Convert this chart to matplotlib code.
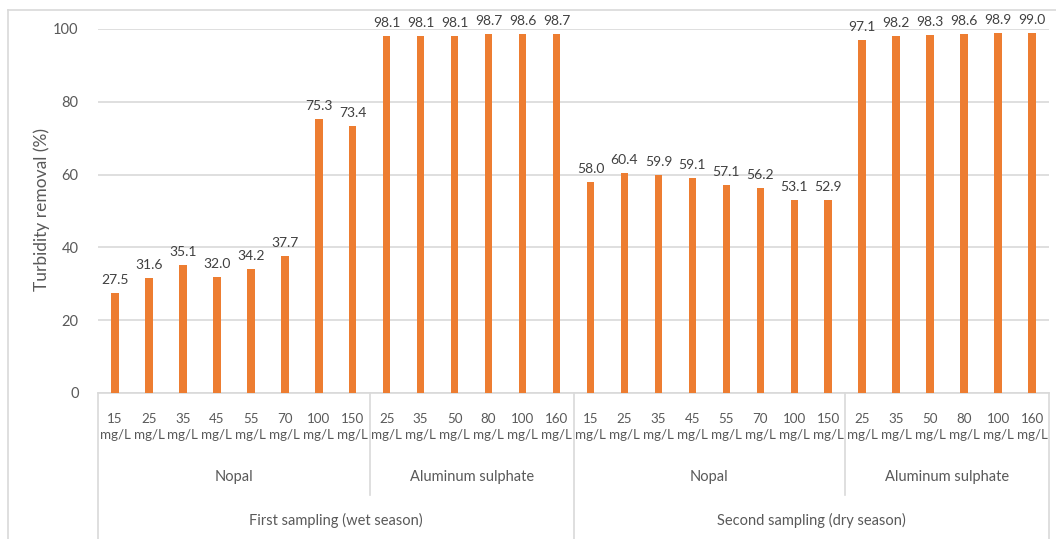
import matplotlib.pyplot as plt
import matplotlib.transforms as mtransforms
from matplotlib.lines import Line2D
import numpy as np

plt.rcParams['font.family'] = ['Lato', 'DejaVu Sans']

# doses per group
nopal_doses = [15, 25, 35, 45, 55, 70, 100, 150]
alum_doses = [25, 35, 50, 80, 100, 160]

# turbidity removal (%)
wet_nopal = [27.5, 31.6, 35.1, 32.0, 34.2, 37.7, 75.3, 73.4]
wet_alum = [98.1, 98.1, 98.1, 98.7, 98.6, 98.7]
dry_nopal = [58.0, 60.4, 59.9, 59.1, 57.1, 56.2, 53.1, 52.9]
dry_alum = [97.1, 98.2, 98.3, 98.6, 98.9, 99.0]

coagulants = ["Nopal", "Aluminum sulphate"]
samplings = ["First sampling (wet season)", "Second sampling (dry season)"]

values = wet_nopal + wet_alum + dry_nopal + dry_alum
doses = nopal_doses + alum_doses + nopal_doses + alum_doses

W, H = 1056, 539
bar_color = "#ED7D31"
grid_color = "#D9D9D9"
text_color = "#595959"

fig = plt.figure(figsize=(W / 100, H / 100), dpi=100)
ax = fig.add_axes([98 / W, (H - 393) / H, (1049 - 98) / W, (393 - 29) / H])

x = np.arange(len(values))
ax.bar(x, values, width=0.22, color=bar_color, zorder=3)
for xi, v in zip(x, values):
    ax.annotate(f"{v:.1f}", (xi, v), xytext=(0, 5), textcoords="offset points",
                ha="center", va="bottom", fontsize=10, color="#404040", clip_on=False)

ax.set_xlim(-0.5, len(values) - 0.5)
ax.set_ylim(0, 100)
ax.set_yticks(np.arange(0, 101, 20))
ax.yaxis.grid(True, color=grid_color, linewidth=1.2, zorder=0)
ax.tick_params(axis="y", length=0, pad=14, labelsize=10.5, labelcolor=text_color)
ax.set_xticks([])
for s in ["top", "right", "left"]:
    ax.spines[s].set_visible(False)
ax.spines["bottom"].set_color(grid_color)
ax.spines["bottom"].set_linewidth(1.2)
ax.set_ylabel("Turbidity removal (%)", fontsize=12.5, color=text_color)
ax.yaxis.set_label_coords((42 - 98) / 951, 0.504)
ax.yaxis.label.set_va("center")

# multi-level category axis
trans = mtransforms.blended_transform_factory(ax.transData, fig.transFigure)
def fy(py):
    return 1 - py / H

for xi, d in zip(x, doses):
    ax.text(xi, fy(427), f"{d}\nmg/L", transform=trans, ha="center", va="center",
            fontsize=9.6, color=text_color, linespacing=1.4)

n1, n2 = len(nopal_doses), len(alum_doses)
edges = np.cumsum([0, n1, n2, n1, n2]) - 0.5
for i in range(4):
    mid = (edges[i] + edges[i + 1]) / 2
    ax.text(mid, fy(477), coagulants[i % 2], transform=trans, ha="center",
            va="center", fontsize=10.5, color=text_color)
for i in range(2):
    mid = (edges[2 * i] + edges[2 * i + 2]) / 2
    ax.text(mid, fy(520), samplings[i], transform=trans, ha="center",
            va="center", fontsize=10.5, color=text_color)

for i, e in enumerate(edges):
    bottom = fy(H + 5) if i % 2 == 0 else fy(495)
    ax.add_line(Line2D([e, e], [fy(393), bottom], transform=trans,
                       color=grid_color, linewidth=1.2, clip_on=False))

# chart area border
fig.add_artist(Line2D([8 / W, 8 / W], [fy(10), 0], transform=fig.transFigure,
                      color=grid_color, linewidth=1.2))
fig.add_artist(Line2D([8 / W, 1], [fy(10), fy(10)], transform=fig.transFigure,
                      color=grid_color, linewidth=1.2))

fig.savefig("out.png", dpi=100, facecolor="white")
